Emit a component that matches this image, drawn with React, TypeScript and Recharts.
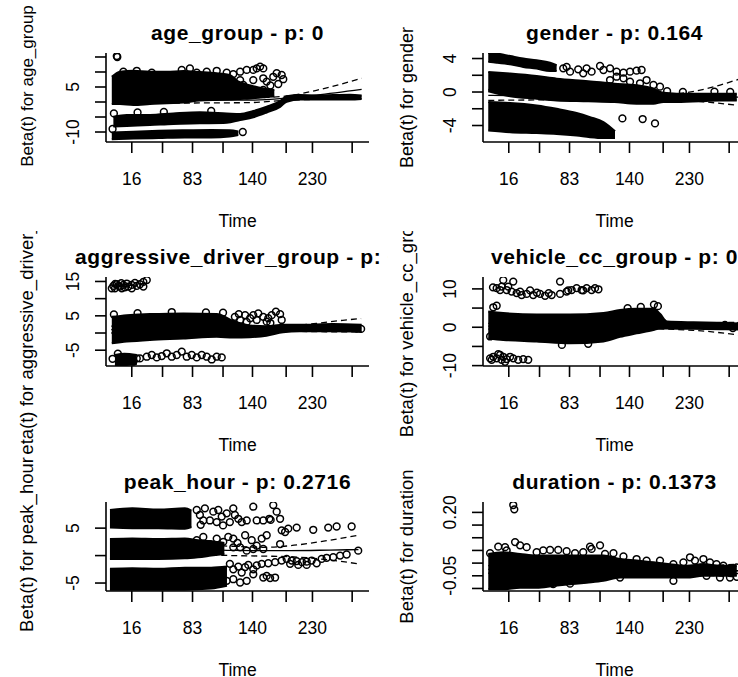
import React from 'react';
import { ComposedChart, XAxis, YAxis, Scatter, Line, Area } from 'recharts';

const FONT = '"Liberation Sans", Arial, Helvetica, sans-serif';

// Transformed (KM-scaled) time axis: 0..100 spans the plot box
const timeTickPos = [9.8, 21.5, 32.9, 44.5, 55.7, 68.5, 78.5, 93.6];
const timeTickLabels = ['16', '', '83', '', '140', '', '230', ''];

// ---------- age_group ----------
const ageYTicks = [-10, -5, 0, 5, 10, 15];
const ageYTickLabels = ['-10', '', '', '5', '', ''];
const ageUpperBand = [
  [2.2, -0.7, 8.4], [5.3, -0.7, 10.1], [10.4, -1.0, 10.4], [16.7, -0.7, 10.1], [23.1, -0.4, 10.1],
  [29.4, -0.2, 10.3], [35.7, 0.5, 10.0], [42.1, 0.7, 9.6], [47.1, 0.8, 9.0], [50.0, 1.0, 7.0],
  [55.0, 1.2, 5.5], [60.0, 1.6, 4.5], [64.0, 1.8, 4.0],
];
const ageMidBand = [
  [2.8, -8.2, -4.9], [7.9, -8.0, -4.3], [16.7, -7.7, -4.3], [25.6, -7.3, -3.8], [35.7, -7.1, -3.4],
  [45.9, -6.9, -3.8], [51.0, -6.0, -4.0], [56.0, -5.1, -3.0], [61.1, -3.5, -1.6], [66.2, -1.6, 0.3],
  [68.7, 0.1, 1.9], [73.8, 0.8, 2.3], [80.1, 0.8, 2.2], [86.4, 0.8, 2.3], [92.8, 0.8, 2.4], [97.2, 1.0, 2.2],
];
const ageLowBand = [
  [2.2, -12.4, -10.2], [10.4, -12.2, -9.9], [20.0, -12.0, -9.6], [30.0, -11.8, -9.4],
  [40.0, -11.8, -9.3], [47.0, -11.5, -9.4], [50.3, -11.0, -9.8],
];
const agePoints = [
  [4.1, 15.3], [4.3, 15.0],
  [6.6, 10.1], [11.7, 10.4], [17.4, 9.8], [28.8, 10.7], [31.9, 11.2], [34.5, 9.8], [38.3, 10.1],
  [42.1, 10.4], [45.9, 9.8], [48.4, 9.3], [51.0, 10.1], [53.5, 10.7], [56.0, 10.7], [57.3, 11.2],
  [58.6, 11.8], [59.8, 11.2],
  [52.2, 5.7], [56.0, 7.3], [59.8, 7.9], [61.1, 6.8], [63.6, 8.4], [64.9, 9.6], [66.8, 9.0],
  [67.4, 7.6], [59.8, 4.0], [53.5, 2.3], [49.7, 4.9], [51.0, 7.3], [65.5, 6.0], [62.5, 5.5],
  [3.0, -3.8], [12.0, -3.5], [22.0, -3.3], [40.0, -3.0], [2.5, -9.0], [52.0, -10.0],
];
const ageFit = [[3, 1.5], [20, 0.8], [40, 0.6], [55, 0.6], [68.7, 1.3], [80, 2.3], [97.2, 4.2]];
const ageFitUpper = [[3, 3.5], [20, 2.0], [40, 1.5], [55, 1.4], [68.7, 2.0], [80, 3.9], [97.2, 7.9]];
const ageFitLower = [[3, -0.5], [20, -0.4], [40, -0.3], [55, -0.2], [68.7, 0.6], [80, 0.9], [97.2, 1.4]];

// ---------- gender ----------
const genderYTicks = [-4, -2, 0, 2, 4];
const genderYTickLabels = ['-4', '', '0', '', '4'];
const genderTopBand = [
  [2.0, 3.6, 4.66], [5.2, 3.5, 4.6], [10.3, 3.3, 4.3], [15.3, 3.0, 4.0], [20.4, 2.8, 3.8],
  [25.5, 2.5, 3.5], [28.0, 2.5, 3.2],
];
const genderMidBand = [
  [2.0, 0.1, 2.4], [10.3, -0.5, 2.2], [20.4, -0.8, 1.9], [28.0, -1.0, 1.6], [40.0, -1.1, 1.3],
  [50.0, -1.2, 1.0], [58.4, -1.4, 0.8], [64.8, -1.4, 0.4], [68.6, -1.2, -0.1], [73.6, -1.2, -0.2],
  [83.8, -1.1, -0.2], [90.1, -1.0, -0.2], [96.5, -1.0, -0.2],
];
const genderLowBand = [
  [2.0, -4.6, -1.2], [10.3, -4.8, -1.3], [20.4, -4.9, -1.6], [28.0, -5.0, -2.0], [35.6, -5.2, -2.5],
  [40.7, -5.4, -3.0], [45.8, -5.5, -3.6], [50.2, -5.5, -4.7],
];
const genderPoints = [
  [30.5, 2.83], [31.8, 3.0], [33.1, 2.43], [36.2, 2.71], [38.1, 2.23], [39.4, 2.83], [41.3, 2.43],
  [44.5, 3.11], [45.8, 2.63], [48.3, 2.83], [50.8, 2.43], [53.4, 2.31], [55.9, 2.43], [58.4, 2.55],
  [60.3, 2.63],
  [48.3, 1.43], [50.8, 1.83], [53.4, 1.63], [55.9, 1.24], [59.7, 1.04], [62.2, 1.43], [64.8, 0.84],
  [67.3, 0.64],
  [53.0, -3.15], [60.7, -3.23], [65.4, -3.75],
  [70.0, 0.1], [76.0, 0.0], [88.0, 0.05], [94.0, 0.0],
];
const genderFit = [[2, -0.4], [20, -0.45], [40, -0.5], [60, -0.55], [70, -0.55], [85, -0.55], [97, -0.6]];
const genderFitUpper = [[2, 0.3], [20, -0.1], [40, -0.25], [60, -0.35], [70, -0.3], [85, 0.4], [97, 1.5]];
const genderFitLower = [[2, -1.0], [20, -0.95], [40, -0.95], [60, -0.95], [70, -0.95], [85, -1.2], [97, -1.6]];

// ---------- aggressive_driver_group ----------
const aggrYTicks = [-5, 0, 5, 10, 15];
const aggrYTickLabels = ['-5', '', '5', '', '15'];
const aggrMainBand = [
  [2.2, -3.0, 4.7], [7.9, -2.5, 5.2], [16.7, -2.0, 5.5], [29.4, -1.6, 5.7], [42.1, -1.1, 5.5],
  [48.4, -1.3, 3.5], [54.6, -1.2, 2.2], [61.0, -0.8, 2.0], [67.3, 0.2, 2.4], [73.6, 0.5, 2.4],
  [86.3, 0.5, 2.6], [97.2, 0.4, 2.4],
];
const aggrLowBand = [[3.4, -9.3, -6.4], [7.0, -9.3, -6.0], [11.7, -9.0, -6.4]];
const aggrPoints = [
  [2.2, 13.0], [2.8, 13.7], [3.4, 13.0], [4.1, 14.2], [4.7, 13.7], [5.3, 13.5], [6.0, 13.0],
  [6.6, 14.0], [7.2, 13.3], [7.9, 14.4], [8.5, 13.5], [9.8, 14.0], [9.8, 13.0], [11.0, 14.6],
  [11.7, 13.7], [12.9, 14.2], [14.2, 14.9], [14.2, 13.5], [15.5, 15.4], [3.5, 14.3], [5.8, 14.5],
  [49.0, 4.7], [51.0, 3.8], [52.9, 5.2], [54.8, 4.3], [56.0, 5.2], [57.9, 5.7], [59.8, 4.7],
  [61.7, 4.3], [63.0, 5.2], [64.6, 6.2], [66.2, 5.5], [57.3, 3.8], [61.1, 3.3], [66.8, 3.8],
  [50.5, 5.5], [53.5, 3.2], [62.5, 2.9], [44.5, 5.9], [38.0, 6.0], [25.0, 6.1], [12.0, 5.8], [3.0, 5.4],
  [12.9, -7.4], [15.5, -6.9], [17.4, -6.4], [19.3, -7.1], [21.2, -6.7], [23.1, -5.9], [25.0, -6.9],
  [26.9, -6.4], [28.8, -5.4], [30.7, -6.9], [32.6, -6.4], [34.5, -7.1], [36.4, -6.4], [38.3, -6.9],
  [40.2, -7.7], [42.1, -6.9], [44.0, -7.1], [10.4, -8.3], [11.7, -7.4], [2.5, -7.5], [4.5, -6.0],
  [95.5, 1.3], [97.0, 1.2],
];
const aggrFit = [[2, 1.0], [30, 1.1], [60, 1.2], [80, 1.4], [97, 1.6]];
const aggrFitUpper = [[2, 2.0], [30, 1.6], [60, 1.8], [80, 2.8], [90, 3.7], [97, 4.2]];
const aggrFitLower = [[2, 0.0], [30, 0.6], [60, 0.6], [80, 0.4], [97, 0.3]];

// ---------- vehicle_cc_group ----------
const vehYTicks = [-10, -5, 0, 5, 10];
const vehYTickLabels = ['-10', '', '0', '', '10'];
const vehMainBand = [
  [2.0, -2.9, 4.1], [7.7, -3.3, 3.7], [20.4, -3.7, 3.3], [33.1, -4.2, 3.3], [45.8, -3.7, 3.7],
  [52.1, -2.5, 4.5], [58.4, -1.6, 4.8], [64.8, -0.7, 4.8], [67.3, -0.3, 3.5], [70.0, -0.3, 1.5],
  [80.0, -0.4, 1.3], [90.0, -0.5, 1.2], [97.0, -0.6, 1.0],
];
const vehPoints = [
  [5.2, 10.2], [7.1, 10.6], [9.0, 9.7], [10.9, 9.3], [12.8, 8.9], [14.7, 8.4], [16.6, 8.7],
  [19.1, 8.4], [21.7, 8.7], [23.6, 8.2], [26.1, 8.4], [29.3, 8.7], [31.8, 9.3], [33.7, 9.7],
  [35.6, 10.2], [37.5, 9.7], [39.4, 10.2], [41.3, 9.7], [43.9, 9.9], [7.7, 12.3], [11.5, 11.9],
  [29.3, 11.9], [6.5, 9.7], [9.6, 10.6], [14.1, 9.3], [17.9, 9.6], [32.4, 9.6], [38.1, 9.6],
  [42.6, 10.2], [3.8, 10.4], [20.5, 9.0], [25.0, 8.9],
  [3.9, 5.2], [5.2, 5.6], [2.7, -2.4], [7.7, -2.0], [30.0, -4.6], [40.0, -4.3], [66.5, 5.5],
  [65.0, 5.9], [60.0, 5.3], [55.0, 5.0],
  [2.7, -8.1], [3.9, -7.7], [5.2, -8.1], [6.5, -7.2], [7.7, -7.7], [9.0, -8.3], [10.3, -7.7],
  [11.5, -8.1], [13.4, -8.5], [15.3, -8.3], [17.2, -8.5], [3.3, -8.5], [7.1, -8.5], [8.4, -9.0],
  [5.8, -7.0],
  [97.5, 0.4], [95.0, -0.2], [92.0, 0.6],
];
const vehFit = [[2, 0.3], [30, 0.2], [60, 0.3], [80, 0.3], [97, 0.0]];
const vehFitUpper = [[2, 1.0], [30, 0.8], [60, 1.0], [80, 1.1], [97, 1.3]];
const vehFitLower = [[2, -0.5], [30, -0.4], [60, -0.4], [80, -0.8], [97, -2.0]];

// ---------- peak_hour ----------
const peakYTicks = [-5, 0, 5];
const peakYTickLabels = ['-5', '', '5'];
const peakTopBand = [[1.5, 5.1, 8.3], [10, 5.0, 8.6], [20, 5.0, 8.4], [30, 4.9, 8.6], [32.5, 5.2, 8.2]];
const peakMidBand = [
  [1.5, -0.6, 3.0], [10, -0.6, 3.1], [20, -0.6, 3.0], [30, -0.5, 3.1], [35, -0.3, 2.8],
  [40, 0.0, 2.6], [45, 0.3, 2.3],
];
const peakLowBand = [[1.5, -6.2, -2.4], [10, -6.2, -2.3], [20, -6.2, -2.4], [30, -6.2, -2.2], [40, -6.0, -2.2], [46, -5.5, -2.0]];
const peakPoints = [
  [34.5, 8.3], [35.7, 7.4], [37.6, 8.6], [39.5, 6.4], [40.8, 8.0], [42.7, 8.3], [44.0, 7.1],
  [45.9, 7.7], [48.4, 8.6], [50.3, 6.7], [51.6, 6.1], [53.5, 6.4], [56.0, 8.9], [57.3, 6.4],
  [59.8, 6.4], [62.1, 6.7], [62.6, 6.5], [63.6, 9.2], [64.9, 8.0], [66.2, 6.7], [37.0, 6.4],
  [42.1, 6.1], [47.1, 6.1], [49.0, 7.4], [36.0, 5.6], [44.5, 5.5],
  [66.8, 4.6], [68.1, 4.3], [69.3, 4.9], [72.5, 5.1], [78.8, 4.7], [84.5, 5.1], [87.7, 5.3], [93.4, 5.3],
  [34.5, 2.8], [37.0, 3.4], [39.5, 2.1], [42.1, 3.1], [44.6, 2.5], [48.4, 3.1], [51.0, 1.5],
  [52.9, 3.7], [55.4, 2.8], [57.3, 1.8], [59.2, 3.1], [61.1, 3.7], [59.8, 1.2], [66.2, 2.1],
  [56.0, 1.2], [53.5, 0.9], [48.4, 1.5], [50.0, 2.3], [46.5, 3.4],
  [47.1, -1.5], [48.4, -2.5], [50.3, -2.0], [51.6, -3.1], [52.9, -2.1], [54.1, -1.7], [56.0, -2.5],
  [57.3, -1.8], [59.8, -4.0], [61.1, -3.7], [62.4, -4.1], [64.3, -4.0], [59.2, -1.5], [61.7, -1.4],
  [64.3, -1.2], [66.8, -0.9], [68.7, -0.6], [70.6, -0.9], [72.5, -1.0], [74.5, -1.2], [76.3, -1.1],
  [78.2, -0.9], [80.1, -1.4], [82.0, -0.6], [83.9, -0.4], [86.4, -0.3], [89.0, 0.0], [91.5, 0.2],
  [95.9, 0.9], [70.0, -1.5], [73.1, -1.7], [76.3, -1.7], [48.4, -4.3], [51.0, -4.9], [45.9, -4.6],
  [53.5, -4.6], [56.0, -3.4],
];
const peakFit = [[2, 1.4], [30, 1.2], [48, 0.95], [60, 0.9], [70, 0.9], [85, 1.0], [96, 1.1]];
const peakFitUpper = [[2, 2.5], [30, 2.0], [48, 1.7], [60, 1.5], [70, 1.8], [85, 2.8], [96, 3.7]];
const peakFitLower = [[2, 0.4], [30, 0.3], [48, 0.0], [60, -0.1], [70, -0.2], [85, -0.8], [96, -1.5]];

// ---------- duration ----------
const durYTicks = [-0.1, -0.05, 0, 0.05, 0.1, 0.15, 0.2];
const durYTickLabels = ['', '-0.05', '', '', '', '', '0.20'];
const durBand = [
  [2.0, -0.103, 0.036], [7.7, -0.103, 0.043], [14.1, -0.097, 0.036], [20.4, -0.097, 0.03],
  [26.7, -0.09, 0.03], [33.1, -0.083, 0.03], [39.4, -0.077, 0.03], [45.8, -0.07, 0.03],
  [52.1, -0.057, 0.016], [58.4, -0.057, 0.01], [64.8, -0.057, 0.003], [71.1, -0.057, -0.004],
  [77.4, -0.057, -0.01], [83.8, -0.05, -0.004], [90.1, -0.05, -0.01], [96.5, -0.05, -0.01],
];
const durPoints = [
  [11.5, 0.229], [11.9, 0.212],
  [2.7, 0.039], [5.8, 0.065], [8.4, 0.063], [9.0, 0.05], [12.2, 0.083], [14.1, 0.07], [16.6, 0.063],
  [20.4, 0.043], [22.9, 0.05], [25.5, 0.052], [28.6, 0.052], [31.8, 0.047], [35.0, 0.039],
  [38.1, 0.043], [40.7, 0.065], [41.3, 0.056], [44.5, 0.07], [46.4, 0.036], [49.6, 0.039],
  [53.4, 0.026], [58.4, 0.016], [62.2, 0.01], [67.3, 0.01], [72.4, -0.004], [76.2, 0.003],
  [78.7, 0.023], [80.6, 0.01], [83.8, 0.016], [86.3, 0.003], [88.8, -0.004], [91.4, -0.01],
  [96.5, -0.017], [52.1, -0.057], [72.4, -0.07], [85.0, -0.05], [90.1, -0.057], [93.9, -0.057],
  [96.5, -0.054], [26.7, -0.083], [33.1, -0.081],
];
const durFit = [[2, -0.025], [30, -0.02], [60, -0.025], [80, -0.028], [97, -0.03]];
const durFitUpper = [[2, -0.01], [30, -0.012], [60, -0.015], [80, -0.012], [97, -0.004]];
const durFitLower = [[2, -0.04], [30, -0.03], [60, -0.035], [80, -0.045], [97, -0.055]];

// ---------- layout ----------
const BOX_L = 95;
const BOX_W = 263;
const BOX_H = 89;
const BELOW = 92;
const CHART_W = 377;

const toPts = (a) => a.map(([u, y]) => ({ u, y }));
const toBand = (a) => a.map(([u, lo, hi]) => ({ u, r: [lo, hi] }));

const Ring = (props) => {
  const { cx, cy } = props;
  if (cx == null || cy == null) return null;
  return <circle cx={cx} cy={cy} r={3.4} fill="none" stroke="#000" strokeWidth={1.5} />;
};

function Panel(p) {
  const boxT = p.boxTop;
  const chartH = boxT + BOX_H + BELOW;
  const cx = BOX_L + BOX_W / 2;
  const boxB = boxT + BOX_H;
  const labelY = p.labelY != null ? p.labelY : boxT + BOX_H / 2;
  const axisStroke = { stroke: '#000', strokeWidth: 1.6 };
  const XTick = (t) => {
    const i = timeTickPos.indexOf(t.payload.value);
    return (
      <text x={t.x} y={boxB + 43} textAnchor="middle" fontSize={17.5} fill="#000" fontFamily={FONT}>
        {i >= 0 ? timeTickLabels[i] : ''}
      </text>
    );
  };
  const YTick = (t) => {
    const i = p.yTicks.indexOf(t.payload.value);
    const bx = BOX_L - 27;
    return (
      <text x={bx} y={t.y} transform={`rotate(-90 ${bx} ${t.y})`} textAnchor="middle" fontSize={17.5} fill="#000" fontFamily={FONT}>
        {i >= 0 ? p.yTickLabels[i] : ''}
      </text>
    );
  };
  return (
    <div style={{ position: 'absolute', left: p.left, top: p.top, width: CHART_W, height: p.height, overflow: 'hidden', background: '#fff' }}>
      <ComposedChart width={CHART_W} height={chartH} margin={{ top: boxT, right: CHART_W - BOX_L - BOX_W, bottom: 0, left: 0 }}>
        <XAxis xAxisId="b" type="number" dataKey="u" domain={[0, 100]} ticks={timeTickPos} interval={0} allowDataOverflow
          height={BELOW} tickSize={11} tickLine={axisStroke} axisLine={axisStroke} tick={XTick} />
        <XAxis xAxisId="t" orientation="top" type="number" dataKey="u" domain={[0, 100]} allowDataOverflow
          height={0} tick={false} tickLine={false} axisLine={axisStroke} />
        <YAxis yAxisId="l" type="number" dataKey="y" domain={p.yDomain} ticks={p.yTicks} interval={0} allowDataOverflow
          width={BOX_L} tickSize={11} tickLine={axisStroke} axisLine={axisStroke} tick={YTick} />
        <YAxis yAxisId="r" orientation="right" type="number" dataKey="y" domain={p.yDomain} allowDataOverflow
          width={0} tick={false} tickLine={false} axisLine={axisStroke} />
        {p.bands.map((b, i) => (
          <Area key={'b' + i} xAxisId="b" yAxisId="l" data={toBand(b)} dataKey="r" type="monotone"
            fill="#000" fillOpacity={1} stroke="#000" strokeWidth={2} dot={false} activeDot={false} isAnimationActive={false} />
        ))}
        <Scatter xAxisId="b" yAxisId="l" data={toPts(p.points)} shape={Ring} isAnimationActive={false} />
        <Line xAxisId="b" yAxisId="l" data={toPts(p.fit)} dataKey="y" type="monotone" stroke="#000" strokeWidth={1.3} dot={false} activeDot={false} isAnimationActive={false} />
        <Line xAxisId="b" yAxisId="l" data={toPts(p.fitUpper)} dataKey="y" type="monotone" stroke="#000" strokeWidth={1.3} strokeDasharray="6 4" dot={false} activeDot={false} isAnimationActive={false} />
        <Line xAxisId="b" yAxisId="l" data={toPts(p.fitLower)} dataKey="y" type="monotone" stroke="#000" strokeWidth={1.3} strokeDasharray="6 4" dot={false} activeDot={false} isAnimationActive={false} />
        <text x={cx} y={boxT - 13.5} textAnchor="middle" fontSize={21} fontWeight="bold" letterSpacing={0.6} fill="#000" fontFamily={FONT}>
          {p.title}
        </text>
        <text x={cx} y={boxB + 85} textAnchor="middle" fontSize={17.5} fill="#000" fontFamily={FONT}>Time</text>
        <text x={p.labelX} y={labelY} transform={`rotate(-90 ${p.labelX} ${labelY})`} textAnchor="middle" fontSize={p.labelSize} fill="#000" fontFamily={FONT}>
          {p.yLabel}
        </text>
      </ComposedChart>
    </div>
  );
}

export default function App() {
  return (
    <div style={{ position: 'absolute', left: 0, top: 0, width: 738, height: 677, overflow: 'hidden', background: '#fff' }}>
      <Panel left={11} top={0} height={231} boxTop={53} title="age_group - p: 0" yLabel="Beta(t) for age_group"
        yDomain={[-13.33, 16.33]} yTicks={ageYTicks} yTickLabels={ageYTickLabels}
        bands={[ageUpperBand, ageMidBand, ageLowBand]} points={agePoints}
        fit={ageFit} fitUpper={ageFitUpper} fitLower={ageFitLower} labelX={22} labelY={86} labelSize={17} />
      <Panel left={388} top={0} height={231} boxTop={53} title="gender - p: 0.164" yLabel="Beta(t) for gender"
        yDomain={[-5.97, 4.66]} yTicks={genderYTicks} yTickLabels={genderYTickLabels}
        bands={[genderTopBand, genderMidBand, genderLowBand]} points={genderPoints}
        fit={genderFit} fitUpper={genderFitUpper} fitLower={genderFitLower} labelX={25} labelSize={18} />
      <Panel left={11} top={231} height={223} boxTop={46} title="aggressive_driver_group - p: 0" yLabel="Beta(t) for aggressive_driver_group"
        yDomain={[-9.6, 16.3]} yTicks={aggrYTicks} yTickLabels={aggrYTickLabels}
        bands={[aggrMainBand, aggrLowBand]} points={aggrPoints}
        fit={aggrFit} fitUpper={aggrFitUpper} fitLower={aggrFitLower} labelX={22} labelSize={18.5} />
      <Panel left={388} top={231} height={223} boxTop={46} title="vehicle_cc_group - p: 0" yLabel="Beta(t) for vehicle_cc_group"
        yDomain={[-10.1, 13.1]} yTicks={vehYTicks} yTickLabels={vehYTickLabels}
        bands={[vehMainBand]} points={vehPoints}
        fit={vehFit} fitUpper={vehFitUpper} fitLower={vehFitLower} labelX={25} labelSize={18.5} />
      <Panel left={11} top={454} height={223} boxTop={48} title="peak_hour - p: 0.2716" yLabel="Beta(t) for peak_hour"
        yDomain={[-6.45, 9.76]} yTicks={peakYTicks} yTickLabels={peakYTickLabels}
        bands={[peakTopBand, peakMidBand, peakLowBand]} points={peakPoints}
        fit={peakFit} fitUpper={peakFitUpper} fitLower={peakFitLower} labelX={22} labelY={90.5} labelSize={18.5} />
      <Panel left={388} top={454} height={223} boxTop={48} title="duration - p: 0.1373" yLabel="Beta(t) for duration"
        yDomain={[-0.11, 0.241]} yTicks={durYTicks} yTickLabels={durYTickLabels}
        bands={[durBand]} points={durPoints}
        fit={durFit} fitUpper={durFitUpper} fitLower={durFitLower} labelX={25} labelSize={18.5} />
    </div>
  );
}
